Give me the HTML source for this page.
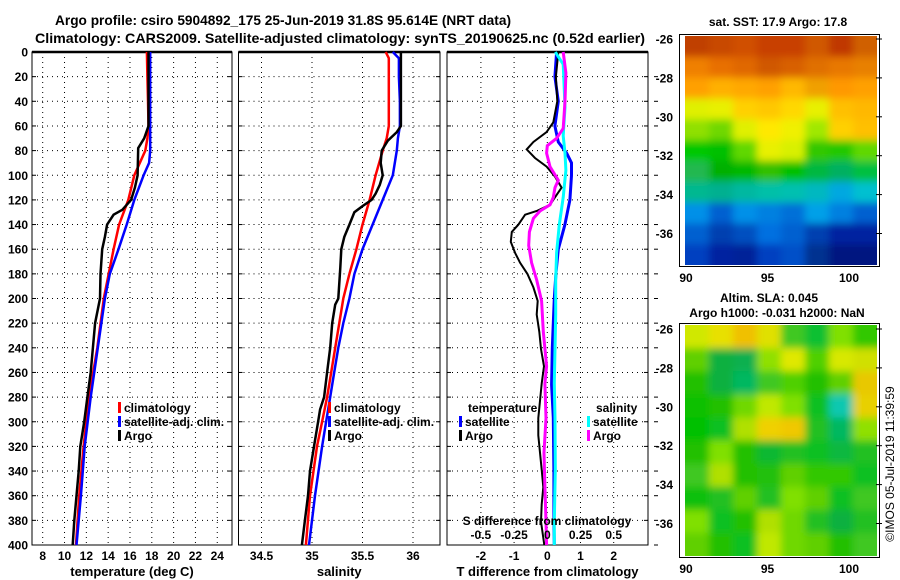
<!DOCTYPE html>
<html><head><meta charset="utf-8"><style>
html,body{margin:0;padding:0;background:#fff}
svg{display:block;font-family:"Liberation Sans",Arial,sans-serif;font-weight:bold}
</style></head><body>
<svg id="fig" width="900" height="580" viewBox="0 0 900 580">
<rect width="900" height="580" fill="#fff"/>
<text x="283" y="25" font-size="14" text-anchor="middle" textLength="456" lengthAdjust="spacingAndGlyphs">Argo profile: csiro 5904892_175 25-Jun-2019 31.8S 95.614E (NRT data)</text>
<text x="340" y="43" font-size="14" text-anchor="middle" textLength="610" lengthAdjust="spacingAndGlyphs">Climatology: CARS2009. Satellite-adjusted climatology: synTS_20190625.nc (0.52d earlier)</text>
<g id="plots"></g>
<g id="maps"></g>
</svg>
<script>
// ---------- data ----------
const depthTicks = [0,20,40,60,80,100,120,140,160,180,200,220,240,260,280,300,320,340,360,380,400];
const tempTicks = [8,10,12,14,16,18,20,22,24];
const salTicks = [34.5,35,35.5,36];
const tdiffTicks = [-2,-1,0,1,2];
const sdiffTicks = [-0.5,-0.25,0,0.25,0.5];
const sdiffTickLabels = ["-0.5","-0.25","0","0.25","0.5"];

const climTD = [0,20,40,60,70,80,100,120,140,160,180,200,240,280,320,360,400];
const climT  = [17.55,17.6,17.65,17.7,17.6,17.4,16.4,15.85,15.0,14.5,14.05,13.6,13.0,12.25,11.75,11.35,11.05];
const satTD  = [0,20,40,60,80,90,100,120,140,160,180,200,240,280,320,360,400];
const satT   = [17.85,17.85,17.85,17.85,17.85,17.75,17.25,16.4,15.7,14.95,14.15,13.7,13.05,12.4,11.85,11.5,11.1];
const argoTD = [0,20,40,60,70,78,100,110,120,128,132,140,150,160,180,200,220,240,260,280,300,320,340,360,380,400];
const argoT  = [17.7,17.7,17.7,17.7,17.3,16.75,16.7,16.45,16.1,15.3,14.5,13.9,13.7,13.45,13.3,13.25,12.8,12.6,12.4,12.1,11.8,11.45,11.3,11.1,10.9,10.75];

const climSD = [0,5,20,40,60,70,80,100,120,140,160,180,200,220,240,260,280,300,320,360,400];
const climS  = [35.73,35.76,35.76,35.76,35.76,35.74,35.70,35.63,35.57,35.5,35.44,35.37,35.31,35.27,35.23,35.19,35.15,35.10,35.05,34.98,34.94];
const satSD  = [0,5,20,40,60,70,80,100,120,140,160,180,200,220,240,260,280,300,320,360,400];
const satS   = [35.80,35.86,35.86,35.87,35.87,35.85,35.84,35.80,35.70,35.60,35.50,35.42,35.37,35.31,35.26,35.22,35.18,35.14,35.10,35.03,34.97];
const argoSD = [0,20,40,60,65,72,80,90,100,108,115,120,125,130,140,150,160,175,200,205,220,240,260,280,290,300,320,340,360,380,400];
const argoS  = [35.88,35.88,35.88,35.88,35.84,35.75,35.69,35.68,35.70,35.67,35.63,35.59,35.50,35.42,35.37,35.32,35.29,35.28,35.26,35.23,35.2,35.18,35.15,35.12,35.08,35.06,35.02,34.98,34.96,34.93,34.90];

const satTdD = [0,20,40,60,73,82,90,100,120,140,160,180,200,240,270,297,340,380,400];
const satTd  = [0.28,0.23,0.33,0.23,0.33,0.58,0.73,0.73,0.68,0.53,0.33,0.26,0.21,0.15,0.13,0.18,0.2,0.2,0.21];
const argoTdD = [0,20,40,57,65,73,79,86,93,101,110,118,124,129,132,140,146,154,163,171,180,191,202,213,227,241,255,269,283,297,311,325,339,353,367,381,400];
const argoTd  = [0.33,0.26,0.3,0.18,-0.02,-0.42,-0.62,-0.37,-0.02,0.23,0.43,0.23,0.08,-0.32,-0.67,-0.87,-1.07,-1.1,-0.97,-0.82,-0.6,-0.42,-0.29,-0.32,-0.24,-0.19,-0.1,-0.17,-0.22,-0.27,-0.27,-0.22,-0.17,-0.12,-0.17,-0.19,-0.09];
const satSdD = [0,10,45,68,82,96,118,140,163,185,213,241,269,297,339,381,400];
const satSd  = [0.06,0.12,0.133,0.12,0.133,0.14,0.12,0.09,0.07,0.063,0.063,0.058,0.053,0.058,0.06,0.053,0.053];
const argoSdD = [0,17,40,62,70,76,82,93,104,110,118,124,129,135,146,157,171,185,202,227,255,269,297,325,353,381,400];
const argoSd  = [0.12,0.14,0.133,0.12,0.07,0,-0.005,0.02,0.083,0.058,0.045,0.02,-0.055,-0.105,-0.135,-0.14,-0.118,-0.08,-0.043,-0.03,-0.005,-0.018,-0.01,-0.025,-0.018,-0.01,-0.005];

// ---------- axes ----------
const TOP=52, BOT=545;
const yD = d => TOP + d*(BOT-TOP)/400;
const xT = t => 42.7 + (t-8)*10.91;
const xS = s => 312 + (s-35)*101;
const xTd = v => 547.3 + v*33.2;
const xSd = v => 547.3 + v*132.8;
const NS="http://www.w3.org/2000/svg";
const plots=document.getElementById('plots');
function mk(tag,attrs,parent){const e=document.createElementNS(NS,tag);for(const k in attrs)e.setAttribute(k,attrs[k]);(parent||plots).appendChild(e);return e;}

const panels=[
 {x0:32,x1:232,ticks:tempTicks,fx:xT,labels:tempTicks.map(String),title:"temperature (deg C)",name:"temperature"},
 {x0:238.5,x1:440,ticks:salTicks,fx:xS,labels:salTicks.map(String),title:"salinity",name:"salinity"},
 {x0:447,x1:648,ticks:tdiffTicks,fx:xTd,labels:tdiffTicks.map(String),title:"T difference from climatology",name:"difference"}
];
panels.forEach((p,i)=>{
  const g=mk('g',{});
  
  
  depthTicks.forEach(d=>{
    if(d>0&&d<400){
      const l=mk('line',{x1:p.x0,x2:p.x1,y1:yD(d),y2:yD(d),stroke:'#000','stroke-width':1,'stroke-dasharray':'1,4'},g);
      
      
    }
    mk('line',{x1:p.x0,x2:p.x0+4,y1:yD(d),y2:yD(d),stroke:'#000'},g);
    mk('line',{x1:p.x1-4,x2:p.x1,y1:yD(d),y2:yD(d),stroke:'#000'},g);
  });
  p.ticks.forEach((t,j)=>{
    const x=p.fx(t);
    const l=mk('line',{x1:x,x2:x,y1:TOP,y2:BOT,stroke:'#000','stroke-width':1,'stroke-dasharray':'1,4'},g);
    
    
    const tx=mk('text',{x:x,y:560,'font-size':12,'text-anchor':'middle'},g);
    tx.textContent=p.labels[j];
    
    
  });
  const fr=mk('rect',{x:p.x0,y:TOP,width:p.x1-p.x0,height:BOT-TOP,fill:'none',stroke:'#000','stroke-width':1},g);
  
  
  mk('line',{x1:p.x0,x2:p.x1,y1:TOP,y2:TOP,stroke:'#000','stroke-width':2.5},g);
  const at=mk('text',{x:(p.x0+p.x1)/2,y:576,'font-size':13,'text-anchor':'middle'},g);
  at.textContent=p.title;
  
  
});
depthTicks.forEach(d=>{
  const t=mk('text',{x:28,y:yD(d)+4.5,'font-size':12,'text-anchor':'end'});
  t.textContent=String(d);
  
  
});
depthTicks.forEach(d=>{ if(d>0) mk('line',{x1:654,x2:658,y1:yD(d),y2:yD(d),stroke:'#000'}); });

function series(ds,vs,fx,color,w,name){
  const pts=ds.map((d,i)=>fx(vs[i]).toFixed(1)+','+yD(d).toFixed(1)).join(' ');
  const pl=mk('polyline',{points:pts,fill:'none',stroke:color,'stroke-width':w,'stroke-linejoin':'miter'});
  
  
}
series(climTD,climT,xT,'#f00',2.5,'temperature-climatology-line');
series(satTD,satT,xT,'#00f',2.5,'temperature-satellite-line');
series(argoTD,argoT,xT,'#000',2.5,'temperature-argo-line');
series(climSD,climS,xS,'#f00',2.5,'salinity-climatology-line');
series(satSD,satS,xS,'#00f',2.5,'salinity-satellite-line');
series(argoSD,argoS,xS,'#000',2.5,'salinity-argo-line');
series(satTdD,satTd,xTd,'#00f',3,'tdiff-satellite-line');
series(argoTdD,argoTd,xTd,'#000',2,'tdiff-argo-line');
series(satSdD,satSd,xSd,'#0ff',3,'sdiff-satellite-line');
series(argoSdD,argoSd,xSd,'#f0f',3,'sdiff-argo-line');

function legendEntry(x,y,color,label,name){
  const g=mk('g',{});
  
  
  if(color) mk('rect',{x:x,y:y-10,width:3,height:11,fill:color},g);
  const t=mk('text',{x:x+6,y:y,'font-size':12},g);
  t.textContent=label;
}
legendEntry(118,412,'#f00','climatology','legend-climatology');
legendEntry(118,426,'#00f','satellite-adj. clim.','legend-satellite-adj');
legendEntry(118,440,'#000','Argo','legend-argo');
legendEntry(328,412,'#f00','climatology','legend-climatology-sal');
legendEntry(328,426,'#00f','satellite-adj. clim.','legend-satellite-adj-sal');
legendEntry(328,440,'#000','Argo','legend-argo-sal');
legendEntry(462,412,null,'temperature','legend-temperature-header');
legendEntry(459,426,'#00f','satellite','legend-tdiff-satellite');
legendEntry(459,440,'#000','Argo','legend-tdiff-argo');
legendEntry(590,412,null,'salinity','legend-salinity-header');
legendEntry(587,426,'#0ff','satellite','legend-sdiff-satellite');
legendEntry(587,440,'#f0f','Argo','legend-sdiff-argo');
const st=mk('text',{x:547,y:525,'font-size':12,'text-anchor':'middle'});
st.textContent='S difference from climatology';


sdiffTicks.forEach((v,j)=>{
  const t=mk('text',{x:xSd(v),y:539,'font-size':12,'text-anchor':'middle'});
  t.textContent=sdiffTickLabels[j];
  
  
});

// ---------- maps ----------
const sstGrid=[
["C04000","C84800","D05000","C84000","C84000","D05800","C03800","D06000"],
["F08000","E87000","E06800","D05800","D86000","E07000","E87800","E88000"],
["FFA000","FFB000","FFA800","FFA000","FFB800","F0A000","FF9800","FFA000"],
["E0F000","E8F000","FFD000","FFC800","FFD800","E8F000","FFC000","FFB800"],
["90E000","70D800","E0F000","FFE800","F0F000","A0E800","FFD000","FFC000"],
["00C800","00C000","60D800","E8F000","D8F000","30C800","20C800","60D800"],
["20B850","00B000","00B800","30C000","00C000","00B840","00B060","00C040"],
["00B890","00B090","00B8A0","00C0A8","00C0B0","00B8C0","00A8E0","00C0D0"],
["0090E8","0060D0","0090E8","0080E0","0070D8","00A0E8","0080E0","0060D0"],
["0060D0","0040B0","0050C0","0070E0","0060D0","0040B0","0020A0","0020A0"],
["0040C0","0020A0","002098","0040C0","0050C8","003090","001880","001880"]];
const slaGrid=[
["D0E800","E8E000","F0C000","E0E000","40C820","10C030","80E000","30C800"],
["60D000","10B040","10B050","90E000","E0E800","50D000","D8E800","D0E000"],
["20C000","10B040","00B860","40C820","50D000","20C000","60D000","E8C800"],
["10C000","20C000","70D800","C0E800","80E000","10C020","10C8B0","E8D000"],
["00C000","10C020","B0E000","F0D000","F0C800","20C020","00B860","90E000"],
["20C000","80E000","20C000","10B830","20C020","10C020","10B840","20C020"],
["40C820","B0E000","20C000","20C010","60D000","30C800","30C800","10C020"],
["10C010","20C020","60D000","20C020","80E000","60D000","10C020","40C820"],
["80E000","10C020","20C000","B0E000","70D800","20C020","10B040","20C020"],
["60D000","20C000","10C020","C0E800","70D800","60D000","20C000","40C820"]];
const latTicks=[-26,-28,-30,-32,-34,-36];
const lonTicks=[90,95,100];
const maps=document.getElementById('maps');
const defs=mk('defs',{},maps);
const flt=mk('filter',{id:'bl',x:'-10%',y:'-10%',width:'120%',height:'120%'},defs);
mk('feGaussianBlur',{stdDeviation:4},flt);
function drawMap(grid,y0,y1,latY0,name,clipId){
  const x0=685,x1=877;
  const cp=mk('clipPath',{id:clipId},defs);
  mk('rect',{x:x0,y:y0,width:x1-x0,height:y1-y0},cp);
  const g=mk('g',{'clip-path':'url(#'+clipId+')'},maps);
  
  
  const inner=mk('g',{filter:'url(#bl)'},g);
  const rows=grid.length, cols=grid[0].length;
  const cw=(x1-x0)/cols, ch=(y1-y0)/rows;
  grid.forEach((r,i)=>r.forEach((c,j)=>{
    mk('rect',{x:x0+j*cw-(j==0?10:0),y:y0+i*ch-(i==0?10:0),width:cw+1+(j==0||j==cols-1?10:0),height:ch+1+(i==0||i==rows-1?10:0),fill:'#'+c},inner);
  }));
  const fr=mk('rect',{x:679.5,y:y0-1.5,width:200,height:y1-y0+3,fill:'none',stroke:'#000','stroke-width':1},maps);
  
  
  latTicks.forEach((la,k)=>{
    const y=latY0+k*38.9;
    const t=mk('text',{x:673,y:y+4.5,'font-size':12,'text-anchor':'end'},maps);
    t.textContent=String(la);
    
    
    mk('line',{x1:876,x2:882,y1:y,y2:y,stroke:'#000'},maps);
  });
  lonTicks.forEach(lo=>{
    const x=686+(lo-90)*16.3;
    const t=mk('text',{x:x,y:y1+17,'font-size':12,'text-anchor':'middle'},maps);
    t.textContent=String(lo);
    
    
  });
}
drawMap(sstGrid,36,265,39,'sst-map','c1');
drawMap(slaGrid,325,556,329,'sla-map','c2');
function mtext(x,y,s,name,extra){
  const t=mk('text',Object.assign({x:x,y:y,'font-size':12,'text-anchor':'middle'},extra||{}),maps);
  t.textContent=s;
  
  
}
mtext(778,26,'sat. SST: 17.9 Argo: 17.8','sst-map-title');
mtext(769,302,'Altim. SLA: 0.045','sla-map-title');
mtext(777,317,'Argo h1000: -0.031 h2000: NaN','sla-map-subtitle');
mtext(0,0,'©IMOS 05-Jul-2019 11:39:59','imos-timestamp',{transform:'translate(894,464) rotate(-90)','font-weight':'normal'});
</script>
</body></html>
